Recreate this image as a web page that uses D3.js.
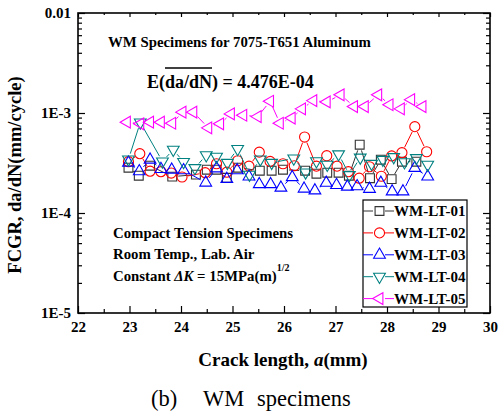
<!DOCTYPE html>
<html>
<head>
<meta charset="utf-8">
<script src="https://cdn.jsdelivr.net/npm/d3@7"></script>
<style>
  body { margin: 0; background: #fff; }
  text { font-family: "Liberation Serif", "Times New Roman", serif; }
</style>
</head>
<body>
<svg id="chart" width="500" height="417"></svg>
<script>
// FCGR of WM specimens -- constant dK tests

var xTickValues = [22, 23, 24, 25, 26, 27, 28, 29, 30];
var yTickValues = [1e-5, 1e-4, 1e-3, 1e-2];
var yTickLabels = ["1E-5", "1E-4", "1E-3", "0.01"];

var lt01X = [22.98, 23.18, 23.40, 23.83, 24.29, 24.50, 24.69, 24.89, 25.11, 25.53, 25.76, 25.98,
             26.41, 26.63, 26.84, 27.06, 27.26, 27.47, 27.67, 27.88, 28.09, 28.29, 28.57];
var lt01Y = [2.84e-4, 2.36e-4, 2.97e-4, 2.31e-4, 2.42e-4, 2.71e-4, 2.71e-4, 2.25e-4, 2.84e-4, 2.65e-4, 2.65e-4, 2.71e-4,
             2.65e-4, 2.47e-4, 2.53e-4, 2.53e-4, 2.36e-4, 4.82e-4, 2.23e-4, 3.41e-4, 2.18e-4, 3.26e-4, 3.26e-4];

var lt02X = [22.98, 23.20, 23.40, 23.61, 23.81, 24.02, 24.47, 24.69, 24.89, 25.10, 25.32, 25.52, 25.73, 25.98,
             26.20, 26.40, 26.63, 26.83, 27.03, 27.25, 27.46, 27.66, 27.89, 28.09, 28.29, 28.54, 28.77];
var lt02Y = [3.26e-4, 3.92e-4, 2.62e-4, 2.59e-4, 2.51e-4, 2.29e-4, 2.53e-4, 3.11e-4, 2.56e-4, 3.33e-4, 2.94e-4, 4.06e-4, 3.28e-4, 3.11e-4,
             2.97e-4, 5.75e-4, 2.94e-4, 3.74e-4, 2.94e-4, 2.59e-4, 2.23e-4, 2.90e-4, 2.33e-4, 3.72e-4, 4.01e-4, 7.30e-4, 4.10e-4];

var lt03X = [22.98, 23.19, 23.40, 23.61, 23.82, 24.05, 24.48, 24.69, 24.89, 25.09, 25.32, 25.52, 25.74, 25.94,
             26.16, 26.39, 26.60, 26.82, 27.02, 27.23, 27.42, 27.66, 27.88, 28.10, 28.31, 28.54, 28.79];
var lt03Y = [3.18e-4, 2.61e-4, 3.41e-4, 2.75e-4, 2.71e-4, 2.67e-4, 2.01e-4, 2.79e-4, 2.19e-4, 2.67e-4, 2.31e-4, 1.94e-4, 1.94e-4, 1.79e-4,
             2.28e-4, 1.75e-4, 1.68e-4, 2.00e-4, 1.90e-4, 1.83e-4, 1.85e-4, 1.74e-4, 2.00e-4, 1.64e-4, 1.64e-4, 2.82e-4, 2.31e-4];

var lt04X = [22.98, 23.21, 23.64, 23.85, 24.05, 24.27, 24.49, 24.69, 24.90, 25.10, 25.33, 25.54, 25.76,
             26.19, 26.42, 26.63, 26.84, 27.06, 27.27, 27.48, 27.70, 27.92, 28.13, 28.34, 28.57, 28.79];
var lt04Y = [3.44e-4, 8.05e-4, 3.28e-4, 4.30e-4, 3.24e-4, 2.82e-4, 3.79e-4, 3.66e-4, 3.18e-4, 4.37e-4, 2.42e-4, 3.44e-4, 3.18e-4,
             3.51e-4, 2.55e-4, 3.30e-4, 3.04e-4, 3.87e-4, 2.40e-4, 3.59e-4, 3.11e-4, 3.41e-4, 3.63e-4, 3.22e-4, 3.55e-4, 3.04e-4];

var lt05X = [22.95, 23.21, 23.40, 23.61, 23.83, 24.03, 24.24, 24.53, 24.76, 24.97, 25.21, 25.49, 25.73,
             25.92, 26.15, 26.35, 26.57, 26.83, 27.10, 27.36, 27.57, 27.83, 28.05, 28.27, 28.47, 28.69];
var lt05Y = [8.1e-4, 7.8e-4, 8.1e-4, 8.1e-4, 7.9e-4, 1.02e-3, 1.02e-3, 7.1e-4, 7.8e-4, 9.8e-4, 9.5e-4, 9.2e-4, 1.31e-3,
             7.9e-4, 8.9e-4, 1.10e-3, 1.33e-3, 1.29e-3, 1.52e-3, 1.16e-3, 1.16e-3, 1.52e-3, 1.21e-3, 1.10e-3, 1.36e-3, 1.16e-3];

var seriesNames = ["WM-LT-01", "WM-LT-02", "WM-LT-03", "WM-LT-04", "WM-LT-05"];

var series = [
  { name: seriesNames[0], xs: lt01X, ys: lt01Y, color: "#333333", symbol: d3.symbolSquare,   size: 78, rotate: 0 },
  { name: seriesNames[1], xs: lt02X, ys: lt02Y, color: "#ff0000", symbol: d3.symbolCircle,   size: 80, rotate: 0 },
  { name: seriesNames[2], xs: lt03X, ys: lt03Y, color: "#0000ff", symbol: d3.symbolTriangle, size: 60, rotate: 0 },
  { name: seriesNames[3], xs: lt04X, ys: lt04Y, color: "#008080", symbol: d3.symbolTriangle, size: 60, rotate: 180 },
  { name: seriesNames[4], xs: lt05X, ys: lt05Y, color: "#ff00ff", symbol: d3.symbolTriangle, size: 60, rotate: -90 }
];

///////////////////////////////////////////////////////////////////////////////
// Scales and frame

var plotLeft = 78, plotRight = 490, plotTop = 13, plotBottom = 313;

var svg = d3.select("#chart");

var x = d3.scaleLinear().domain([22, 30]).range([plotLeft, plotRight]);
var y = d3.scaleLog().domain([1e-5, 1e-2]).range([plotBottom, plotTop]);

var xMinor = d3.range(22.5, 30, 1);
var yMinor = [];
[1e-5, 1e-4, 1e-3].forEach(function (d) {
  for (var k = 2; k <= 9; k++) yMinor.push(d * k);
});

var styleAxis = function (g) {
  g.select(".domain").remove();
  g.selectAll("line").attr("stroke", "#000").attr("stroke-width", 1.2);
  g.selectAll("text")
    .attr("fill", "#000")
    .style("font-family", "'Liberation Serif', serif")
    .style("font-weight", "bold")
    .style("font-size", "15px");
};

var yLabel = function (d) { return yTickLabels[yTickValues.indexOf(d)]; };

// bottom
svg.append("g").attr("transform", "translate(0," + plotBottom + ")")
  .call(d3.axisBottom(x).tickValues(xTickValues).tickSize(-7).tickPadding(8).tickFormat(d3.format("d")))
  .call(styleAxis);
svg.append("g").attr("transform", "translate(0," + plotBottom + ")")
  .call(d3.axisBottom(x).tickValues(xMinor).tickSize(-4).tickFormat(""))
  .call(styleAxis);

// top
svg.append("g").attr("transform", "translate(0," + plotTop + ")")
  .call(d3.axisTop(x).tickValues(xTickValues).tickSize(-4).tickFormat(""))
  .call(styleAxis);
svg.append("g").attr("transform", "translate(0," + plotTop + ")")
  .call(d3.axisTop(x).tickValues(xMinor).tickSize(-2).tickFormat(""))
  .call(styleAxis);

// left
svg.append("g").attr("transform", "translate(" + plotLeft + ",0)")
  .call(d3.axisLeft(y).tickValues(yTickValues).tickSize(-7).tickPadding(7).tickFormat(yLabel))
  .call(styleAxis);
svg.append("g").attr("transform", "translate(" + plotLeft + ",0)")
  .call(d3.axisLeft(y).tickValues(yMinor).tickSize(-4).tickFormat(""))
  .call(styleAxis);

// right
svg.append("g").attr("transform", "translate(" + plotRight + ",0)")
  .call(d3.axisRight(y).tickValues(yTickValues).tickSize(-7).tickFormat(""))
  .call(styleAxis);
svg.append("g").attr("transform", "translate(" + plotRight + ",0)")
  .call(d3.axisRight(y).tickValues(yMinor).tickSize(-4).tickFormat(""))
  .call(styleAxis);

svg.append("rect")
  .attr("x", plotLeft).attr("y", plotTop)
  .attr("width", plotRight - plotLeft).attr("height", plotBottom - plotTop)
  .attr("fill", "none").attr("stroke", "#000").attr("stroke-width", 1.6);

///////////////////////////////////////////////////////////////////////////////
// Series: line segments that stop short of the symbols, then the symbols

var gap = 6;

var symbolPath = function (s) {
  return d3.symbol().type(s.symbol).size(s.size)();
};

series.forEach(function (s) {
  var g = svg.append("g");
  var pts = s.xs.map(function (v, i) { return [x(v), y(s.ys[i])]; });

  for (var i = 1; i < pts.length; i++) {
    var p0 = pts[i - 1], p1 = pts[i];
    var dx = p1[0] - p0[0], dy = p1[1] - p0[1];
    var len = Math.sqrt(dx * dx + dy * dy);
    if (len <= gap * 2) continue;
    var ux = dx / len, uy = dy / len;
    g.append("line")
      .attr("x1", p0[0] + ux * gap).attr("y1", p0[1] + uy * gap)
      .attr("x2", p1[0] - ux * gap).attr("y2", p1[1] - uy * gap)
      .attr("stroke", s.color).attr("stroke-width", 1);
  }

  g.selectAll("path")
    .data(pts)
    .enter().append("path")
    .attr("d", symbolPath(s))
    .attr("transform", function (p) {
      return "translate(" + p[0] + "," + p[1] + ") rotate(" + s.rotate + ")";
    })
    .attr("fill", "none")
    .attr("stroke", s.color)
    .attr("stroke-width", 1.1);
});

///////////////////////////////////////////////////////////////////////////////
// Legend

var legX = 363, legY = 200, legW = 104, legH = 107, legStep = 21.9;

svg.append("rect")
  .attr("x", legX).attr("y", legY)
  .attr("width", legW).attr("height", legH)
  .attr("fill", "#fff").attr("stroke", "#000").attr("stroke-width", 1.2);

series.forEach(function (s, i) {
  var cy = legY + 11 + i * legStep;
  var g = svg.append("g");
  g.append("line")
    .attr("x1", legX).attr("x2", legX + 10)
    .attr("y1", cy).attr("y2", cy)
    .attr("stroke", s.color).attr("stroke-width", 1);
  g.append("line")
    .attr("x1", legX + 22).attr("x2", legX + 31)
    .attr("y1", cy).attr("y2", cy)
    .attr("stroke", s.color).attr("stroke-width", 1);
  g.append("path")
    .attr("d", symbolPath(s))
    .attr("transform", "translate(" + (legX + 16.5) + "," + cy + ") rotate(" + s.rotate + ")")
    .attr("fill", "none").attr("stroke", s.color).attr("stroke-width", 1.1);
  g.append("text")
    .attr("x", legX + 31).attr("y", cy + 5)
    .style("font-weight", "bold").style("font-size", "15px")
    .text(s.name);
});

///////////////////////////////////////////////////////////////////////////////
// Annotations

var bold = function (t) {
  return t.style("font-weight", "bold").style("font-size", "14.8px");
};

bold(svg.append("text").attr("x", 108).attr("y", 47))
  .text("WM Specimens for 7075-T651 Aluminum");

// E(da/dN) with a bar over da/dN
var eText = svg.append("text").attr("x", 147).attr("y", 88)
  .style("font-weight", "bold").style("font-size", "18px");
eText.append("tspan").text("E(");
eText.append("tspan").text("da/dN");
eText.append("tspan").text(") = 4.476E-04");
var eNode = eText.node();
var barX1 = eNode.getStartPositionOfChar(2).x;
var barX2 = eNode.getEndPositionOfChar(6).x;
svg.append("line")
  .attr("x1", barX1).attr("x2", barX2)
  .attr("y1", 68).attr("y2", 68)
  .attr("stroke", "#000").attr("stroke-width", 1.3);

bold(svg.append("text").attr("x", 113).attr("y", 238)).text("Compact Tension Specimens");
bold(svg.append("text").attr("x", 113).attr("y", 259)).text("Room Temp., Lab. Air");

var cText = bold(svg.append("text").attr("x", 113).attr("y", 281));
cText.append("tspan").text("Constant ");
cText.append("tspan").style("font-style", "italic").text("\u0394K");
cText.append("tspan").text(" = 15MPa(m)");
cText.append("tspan").attr("dy", -10).style("font-size", "10px").text("1/2");

// axis titles
svg.append("text")
  .attr("transform", "translate(21," + ((plotTop + plotBottom) / 2 + 12) + ") rotate(-90)")
  .attr("text-anchor", "middle")
  .style("font-weight", "bold").style("font-size", "18.5px")
  .text("FCGR, da/dN(mm/cycle)");

var xt = svg.append("text")
  .attr("x", 283).attr("y", 366)
  .attr("text-anchor", "middle")
  .style("font-weight", "bold").style("font-size", "19px");
xt.append("tspan").text("Crack length, ");
xt.append("tspan").style("font-style", "italic").text("a");
xt.append("tspan").text("(mm)");

// caption, word by word
var capWords = ["(b)", "WM", "specimens"];
var capX = [151, 203, 257];
svg.selectAll(".cap")
  .data(capWords)
  .enter().append("text")
  .attr("class", "cap")
  .attr("x", function (d, i) { return capX[i]; })
  .attr("y", 406)
  .style("font-size", "22.5px")
  .text(function (d) { return d; });
</script>
</body>
</html>
